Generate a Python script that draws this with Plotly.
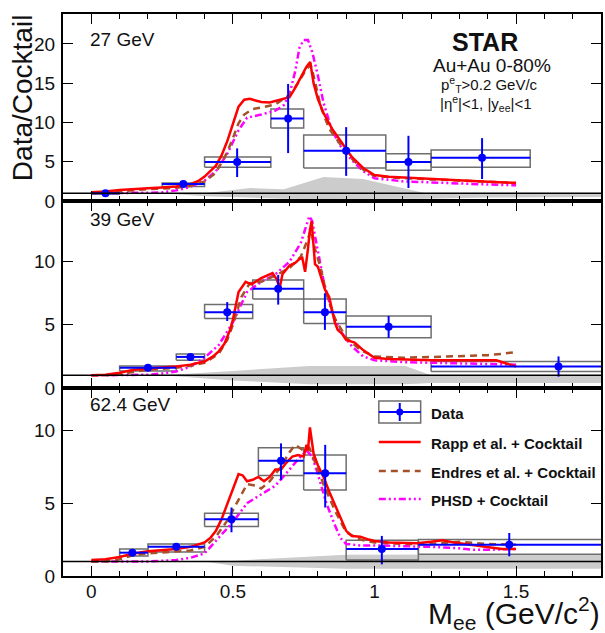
import plotly.graph_objects as go

# ------------------------------------------------------------------ data
panel_labels = ["27 GeV", "39 GeV", "62.4 GeV"]
y_ranges = [[0, 23.8], [0, 14.8], [0, 12.9]]
x_ticks = [0, 0.5, 1, 1.5]
UNITY = 1.0

# ---- 27 GeV data
d27_m = [0.05, 0.325, 0.515, 0.695, 0.90, 1.12, 1.38]
d27_lo = [0.0, 0.25, 0.40, 0.634, 0.75, 1.04, 1.20]
d27_hi = [0.10, 0.40, 0.634, 0.75, 1.04, 1.20, 1.55]
d27_y = [0.98, 2.15, 4.95, 10.5, 6.4, 4.95, 5.5]
d27_stat_lo = [0.8, 2.0, 3.05, 6.1, 3.2, 1.65, 2.8]
d27_stat_hi = [1.15, 2.3, 6.7, 14.9, 9.4, 8.3, 8.0]
d27_sys_lo = [0.9, 1.85, 4.3, 9.3, 4.2, 3.9, 4.3]
d27_sys_hi = [1.05, 2.3, 5.6, 11.7, 8.4, 6.0, 6.5]

# ---- 39 GeV data
d39_m = [0.20, 0.35, 0.48, 0.66, 0.825, 1.05, 1.65]
d39_lo = [0.10, 0.30, 0.40, 0.57, 0.75, 0.90, 1.20]
d39_hi = [0.30, 0.40, 0.57, 0.75, 0.90, 1.20, 2.10]
d39_y = [1.6, 2.46, 6.0, 7.85, 6.0, 4.85, 1.7]
d39_stat_lo = [1.5, 2.3, 5.3, 6.6, 4.6, 3.97, 0.9]
d39_stat_hi = [1.7, 2.6, 6.8, 8.95, 7.5, 5.7, 2.5]
d39_sys_lo = [1.35, 2.2, 5.5, 7.05, 5.1, 3.97, 1.3]
d39_sys_hi = [1.75, 2.7, 6.6, 8.55, 7.05, 5.7, 2.1]

# ---- 62.4 GeV data
d62_m = [0.145, 0.30, 0.495, 0.67, 0.826, 1.026, 1.476]
d62_lo = [0.10, 0.20, 0.40, 0.59, 0.75, 0.90, 1.155]
d62_hi = [0.20, 0.40, 0.59, 0.75, 0.90, 1.155, 2.10]
d62_y = [1.6, 2.0, 3.9, 7.9, 7.05, 1.85, 2.15]
d62_stat_lo = [1.45, 1.85, 3.0, 6.6, 4.7, 0.8, 1.35]
d62_stat_hi = [1.75, 2.15, 4.7, 9.1, 9.0, 2.75, 2.95]
d62_sys_lo = [1.37, 1.65, 3.4, 6.9, 5.9, 1.1, 1.5]
d62_sys_hi = [1.85, 2.2, 4.3, 8.8, 8.3, 2.45, 2.5]

# ---- cocktail systematic bands
band27_m = [0.0, 0.25, 0.40, 0.56, 0.68, 0.82, 0.96, 1.18, 1.4, 1.8]
band27_up = [1.0, 1.0, 1.0, 1.65, 1.5, 3.05, 2.8, 1.0, 1.0, 1.0]
band27_dn = [1.0, 1.0, 0.6, 0.4, 0.3, 0.25, 0.25, 0.3, 0.45, 0.5]
band39_m = [0.0, 0.25, 0.5, 0.77, 1.11, 1.2, 1.8]
band39_up = [1.0, 1.0, 1.35, 1.75, 1.75, 1.0, 1.0]
band39_dn = [1.0, 1.0, 0.6, 0.3, 0.3, 0.4, 0.4]
band62_m = [0.0, 0.40, 0.5, 0.9, 1.8]
band62_up = [1.0, 1.0, 1.05, 1.45, 1.5]
band62_dn = [1.0, 1.0, 0.7, 0.5, 0.5]

# ---- model curves: Rapp
rapp27_m = [0.00, 0.05, 0.10, 0.15, 0.20, 0.25, 0.30, 0.35, 0.38, 0.40, 0.42, 0.44, 0.46, 0.48, 0.50,
            0.52, 0.54, 0.56, 0.58, 0.60, 0.63, 0.66, 0.70, 0.72, 0.74, 0.76, 0.773, 0.785, 0.80, 0.82,
            0.85, 0.884, 0.92, 0.96, 1.00, 1.05, 1.10, 1.20, 1.30, 1.40, 1.50]
rapp27_y = [1.10, 1.20, 1.40, 1.55, 1.62, 1.72, 1.85, 2.15, 2.60, 3.10, 3.80, 4.50, 5.80, 7.60, 9.80,
            12.0, 12.9, 13.0, 12.8, 12.6, 12.55, 12.8, 13.2, 14.4, 15.8, 17.1, 17.7, 15.0, 13.0, 11.2,
            9.2, 7.4, 5.6, 4.2, 3.3, 3.1, 3.0, 2.8, 2.62, 2.45, 2.3]
rapp39_m = [0.00, 0.05, 0.10, 0.15, 0.20, 0.25, 0.30, 0.35, 0.40, 0.43, 0.45, 0.47, 0.49, 0.50, 0.51,
            0.52, 0.545, 0.565, 0.60, 0.64, 0.655, 0.665, 0.675, 0.70, 0.72, 0.735, 0.745, 0.755, 0.765,
            0.772, 0.778, 0.785, 0.79, 0.80, 0.81, 0.825, 0.84, 0.85, 0.86, 0.87, 0.885, 0.90, 0.93,
            0.96, 1.00, 1.05, 1.10, 1.20, 1.30, 1.43, 1.50]
rapp39_y = [1.00, 1.05, 1.20, 1.45, 1.55, 1.60, 1.70, 1.85, 2.10, 2.50, 2.90, 3.50, 4.60, 5.40, 6.50,
            7.60, 8.40, 8.20, 8.70, 9.10, 8.60, 7.90, 9.00, 9.70, 9.90, 10.2, 10.3, 9.20, 11.0,
            12.5, 13.2, 11.0, 9.80, 9.60, 8.80, 7.80, 7.20, 6.30, 5.20, 4.60, 4.30, 3.80, 3.60,
            3.00, 2.40, 2.30, 2.25, 2.20, 2.20, 2.20, 1.70]
rapp62_m = [0.00, 0.05, 0.10, 0.15, 0.20, 0.25, 0.30, 0.35, 0.40, 0.42, 0.44, 0.46, 0.48, 0.50, 0.52,
            0.535, 0.55, 0.57, 0.59, 0.61, 0.63, 0.65, 0.67, 0.69, 0.71, 0.73, 0.75, 0.76, 0.765, 0.772,
            0.778, 0.785, 0.80, 0.82, 0.84, 0.86, 0.88, 0.90, 0.92, 0.95, 0.98, 1.00, 1.05, 1.10, 1.15,
            1.20, 1.24, 1.28, 1.35, 1.40, 1.45, 1.50]
rapp62_y = [1.10, 1.15, 1.30, 1.55, 1.70, 1.78, 1.85, 2.00, 2.30, 2.60, 3.10, 3.90, 4.90, 5.90, 7.00,
            6.90, 6.50, 6.60, 6.80, 6.50, 6.80, 7.30, 7.30, 7.80, 8.20, 8.30, 8.20, 9.00, 8.60, 10.2,
            9.50, 8.40, 7.60, 6.80, 5.80, 4.90, 3.90, 3.10, 2.75, 2.70, 2.50, 2.40, 2.30, 2.25, 2.25,
            2.35, 2.45, 2.30, 2.10, 2.00, 1.85, 1.85]

# ---- model curves: Endres
endres27_m = [0.00, 0.05, 0.10, 0.15, 0.20, 0.25, 0.30, 0.35, 0.40, 0.44, 0.48, 0.50, 0.52, 0.54, 0.57,
              0.60, 0.65, 0.70, 0.73, 0.76, 0.775, 0.79, 0.81, 0.84, 0.88, 0.92, 0.96, 1.00, 1.10, 1.20,
              1.30, 1.40, 1.50]
endres27_y = [1.00, 1.05, 1.25, 1.40, 1.50, 1.58, 1.68, 1.90, 2.50, 3.60, 6.20, 8.00, 9.90, 11.0, 11.7,
              11.9, 12.3, 13.5, 15.0, 16.8, 17.3, 15.2, 12.0, 9.20, 7.20, 5.40, 4.00, 3.20, 2.90, 2.75,
              2.60, 2.45, 2.30]
endres39_m = [0.00, 0.05, 0.10, 0.15, 0.20, 0.30, 0.35, 0.40, 0.45, 0.48, 0.50, 0.53, 0.56, 0.60, 0.65,
              0.70, 0.74, 0.765, 0.775, 0.79, 0.81, 0.83, 0.86, 0.90, 0.95, 1.00, 1.10, 1.20, 1.30, 1.40,
              1.45, 1.50]
endres39_y = [1.00, 1.00, 1.10, 1.30, 1.45, 1.60, 1.75, 2.00, 2.70, 3.80, 5.00, 7.20, 8.30, 8.40, 8.90,
              9.50, 10.4, 11.8, 12.5, 11.0, 9.50, 7.50, 5.50, 4.00, 3.00, 2.50, 2.40, 2.45, 2.50, 2.60,
              2.70, 2.85]
endres62_m = [0.00, 0.05, 0.10, 0.15, 0.20, 0.30, 0.35, 0.40, 0.44, 0.48, 0.52, 0.55, 0.58, 0.60, 0.63,
              0.67, 0.70, 0.72, 0.75, 0.77, 0.79, 0.82, 0.86, 0.90, 0.95, 1.00, 1.10, 1.20, 1.30, 1.40,
              1.50]
endres62_y = [1.00, 1.00, 1.15, 1.45, 1.55, 1.65, 1.75, 2.00, 2.70, 3.80, 5.20, 6.30, 6.20, 6.00, 6.50,
              7.50, 8.50, 9.00, 8.60, 8.80, 7.80, 6.30, 4.50, 3.00, 2.50, 2.30, 2.20, 2.20, 2.35, 2.20,
              2.15]

# ---- model curves: PHSD
phsd27_m = [0.00, 0.10, 0.20, 0.25, 0.30, 0.35, 0.40, 0.44, 0.48, 0.52, 0.55, 0.60, 0.65, 0.68, 0.70,
            0.72, 0.735, 0.75, 0.765, 0.78, 0.80, 0.82, 0.85, 0.88, 0.92, 0.96, 1.00, 1.10, 1.20, 1.30,
            1.40, 1.50]
phsd27_y = [1.00, 1.00, 1.05, 1.10, 1.35, 1.80, 2.60, 3.80, 6.00, 9.00, 10.6, 11.0, 11.5, 12.2, 13.6,
            16.5, 19.5, 20.5, 20.5, 19.0, 16.0, 12.5, 9.00, 7.00, 5.20, 3.80, 2.90, 2.50, 2.35, 2.20,
            2.10, 2.00]
phsd39_m = [0.00, 0.10, 0.20, 0.25, 0.30, 0.35, 0.40, 0.45, 0.50, 0.55, 0.60, 0.65, 0.70, 0.74, 0.76,
            0.77, 0.78, 0.80, 0.82, 0.85, 0.88, 0.92, 0.96, 1.00, 1.10, 1.20, 1.30, 1.40, 1.50]
phsd39_y = [1.00, 1.00, 1.05, 1.15, 1.30, 1.70, 2.40, 3.40, 5.20, 7.60, 8.40, 9.00, 10.0, 11.5, 13.0,
            13.6, 13.2, 11.0, 8.50, 6.00, 4.50, 3.30, 2.50, 2.20, 2.05, 2.00, 1.95, 1.95, 1.85]
phsd62_m = [0.00, 0.10, 0.20, 0.30, 0.35, 0.40, 0.45, 0.50, 0.55, 0.60, 0.65, 0.70, 0.73, 0.76, 0.78,
            0.80, 0.83, 0.86, 0.88, 0.90, 0.95, 1.00, 1.10, 1.20, 1.30, 1.35, 1.40, 1.45, 1.50]
phsd62_y = [1.00, 1.00, 1.00, 1.10, 1.25, 1.55, 2.60, 3.70, 5.00, 5.60, 6.20, 7.30, 8.00, 8.60, 8.20,
            7.00, 5.00, 3.50, 2.60, 2.20, 2.10, 2.10, 2.05, 2.00, 1.90, 1.80, 1.80, 1.85, 1.85]

legend_names = ["Data", "Rapp et al. + Cocktail", "Endres et al. + Cocktail", "PHSD + Cocktail"]

# ------------------------------------------------------------------ styles
FONT = "Liberation Sans, Arial, Helvetica, sans-serif"
BLUE = "#0000ff"
RED = "#ff0000"
BROWN = "#a5522a"
MAGENTA = "#ff00ff"
BOXGRAY = "#6e6e6e"
BANDGRAY = "#cccccc"
DASH_ENDRES = "7px,5px"
DASH_PHSD = "7px,3px,2px,3px,2px,3px"

W, H = 605, 633
ML, MR, MT, MB = 63, 2, 14, 57
PW, PH = W - ML - MR, H - MT - MB


def px(xp):
    return (xp - ML) / PW


def py(yp):
    return (H - MB - yp) / PH


# panel borders in pixel rows
borders = [14, 201, 388, 576]
domains = [[py(borders[i + 1]), py(borders[i])] for i in range(3)]

panels = [
    dict(m=d27_m, lo=d27_lo, hi=d27_hi, y=d27_y, slo=d27_stat_lo, shi=d27_stat_hi,
         blo=d27_sys_lo, bhi=d27_sys_hi, bm=band27_m, bu=band27_up, bd=band27_dn,
         rm=rapp27_m, ry=rapp27_y, em=endres27_m, ey=endres27_y, pm=phsd27_m, pyv=phsd27_y),
    dict(m=d39_m, lo=d39_lo, hi=d39_hi, y=d39_y, slo=d39_stat_lo, shi=d39_stat_hi,
         blo=d39_sys_lo, bhi=d39_sys_hi, bm=band39_m, bu=band39_up, bd=band39_dn,
         rm=rapp39_m, ry=rapp39_y, em=endres39_m, ey=endres39_y, pm=phsd39_m, pyv=phsd39_y),
    dict(m=d62_m, lo=d62_lo, hi=d62_hi, y=d62_y, slo=d62_stat_lo, shi=d62_stat_hi,
         blo=d62_sys_lo, bhi=d62_sys_hi, bm=band62_m, bu=band62_up, bd=band62_dn,
         rm=rapp62_m, ry=rapp62_y, em=endres62_m, ey=endres62_y, pm=phsd62_m, pyv=phsd62_y),
]

fig = go.Figure()
shapes = []
annotations = []

for i, p in enumerate(panels):
    xa = "x" if i == 0 else f"x{i + 1}"
    ya = "y" if i == 0 else f"y{i + 1}"
    common = dict(xaxis=xa, yaxis=ya, showlegend=False, hoverinfo="skip")

    # systematic band of cocktail
    fig.add_trace(go.Scatter(x=p["bm"] + p["bm"][::-1], y=p["bu"] + p["bd"][::-1],
                             fill="toself", fillcolor=BANDGRAY, mode="lines",
                             line=dict(width=0, color=BANDGRAY), **common))
    # sys boxes
    bx, by = [], []
    for a, b, c, d in zip(p["lo"], p["hi"], p["blo"], p["bhi"]):
        bx += [a, b, b, a, a, None]
        by += [c, c, d, d, c, None]
    fig.add_trace(go.Scatter(x=bx, y=by, mode="lines",
                             line=dict(color=BOXGRAY, width=1.5), **common))
    # model curves
    fig.add_trace(go.Scatter(x=p["pm"], y=p["pyv"], mode="lines",
                             line=dict(color=MAGENTA, width=2.5, dash=DASH_PHSD), **common))
    fig.add_trace(go.Scatter(x=p["em"], y=p["ey"], mode="lines",
                             line=dict(color=BROWN, width=2.5, dash=DASH_ENDRES), **common))
    fig.add_trace(go.Scatter(x=p["rm"], y=p["ry"], mode="lines",
                             line=dict(color=RED, width=2.5), **common))
    # data points
    fig.add_trace(go.Scatter(
        x=p["m"], y=p["y"], mode="markers",
        marker=dict(color=BLUE, size=8),
        error_x=dict(type="data", symmetric=False,
                     array=[h - m for h, m in zip(p["hi"], p["m"])],
                     arrayminus=[m - l for m, l in zip(p["m"], p["lo"])],
                     color=BLUE, thickness=2, width=0),
        error_y=dict(type="data", symmetric=False,
                     array=[h - v for h, v in zip(p["shi"], p["y"])],
                     arrayminus=[v - l for v, l in zip(p["y"], p["slo"])],
                     color=BLUE, thickness=2, width=0),
        **common))

    # unity line
    shapes.append(dict(type="line", xref=f"{xa} domain", yref=ya, x0=0, x1=1,
                       y0=UNITY, y1=UNITY, line=dict(color="black", width=1.5)))

    axis_x = dict(domain=[0, 1], range=[-0.1, 1.8], anchor=ya, showline=True,
                  mirror="ticks", linewidth=2, linecolor="black", ticks="inside",
                  ticklen=10, tickwidth=1.2, tickcolor="black",
                  tickvals=x_ticks, ticktext=[f"{v:g}" for v in x_ticks],
                  minor=dict(ticks="inside", dtick=0.1, tick0=0, ticklen=5,
                             tickwidth=1.2, tickcolor="black", showgrid=False),
                  showgrid=False, zeroline=False, showticklabels=(i == 2),
                  tickfont=dict(family=FONT, size=19, color="#111"),
                  ticklabelstandoff=-3)
    if i < 2:
        axis_x["matches"] = "x3"
    axis_y = dict(domain=domains[i], range=y_ranges[i], anchor=xa, showline=True,
                  mirror="ticks", linewidth=2, linecolor="black", ticks="inside",
                  ticklen=10, tickwidth=1.2, tickcolor="black", dtick=5, tick0=0,
                  showgrid=False, zeroline=False,
                  tickfont=dict(family=FONT, size=19, color="#111"),
                  ticklabelstandoff=2)
    fig.layout[("xaxis" if i == 0 else f"xaxis{i + 1}")] = axis_x
    fig.layout[("yaxis" if i == 0 else f"yaxis{i + 1}")] = axis_y

    # panel labels
    ycent = [40, 219, 404][i]
    annotations.append(dict(text=panel_labels[i], xref="paper", yref="paper",
                            x=px(88), y=py(ycent), xanchor="left", yanchor="middle",
                            showarrow=False, font=dict(family=FONT, size=19, color="#111")))

# STAR block
annotations += [
    dict(text="<b>STAR</b>", x=px(487), y=py(42), font=dict(family=FONT, size=25, color="#111")),
    dict(text="Au+Au 0-80%", x=px(494), y=py(65), font=dict(family=FONT, size=19, color="#111")),
    dict(text="p<sup>e</sup><sub>T</sub>&gt;0.2 GeV/c", x=px(491), y=py(84),
         font=dict(family=FONT, size=15, color="#111")),
    dict(text="|η<sup>e</sup>|&lt;1, |y<sub>ee</sub>|&lt;1", x=px(488), y=py(103),
         font=dict(family=FONT, size=15, color="#111")),
]
for a in annotations[-4:]:
    a.update(xref="paper", yref="paper", xanchor="center", yanchor="middle", showarrow=False)

# axis titles
annotations.append(dict(text="Data/Cocktail", xref="paper", yref="paper", x=px(23), y=py(98),
                        textangle=-90, xanchor="center", yanchor="middle", showarrow=False,
                        font=dict(family=FONT, size=28, color="#111")))
annotations.append(dict(text="M<sub>ee</sub> (GeV/c<sup>2</sup>)", xref="paper", yref="paper",
                        x=px(604), y=py(613), xanchor="right", yanchor="middle", showarrow=False,
                        font=dict(family=FONT, size=30, color="#111")))

# legend (manual, inside bottom panel)
lx0, lx1 = px(380), px(422)
shapes.append(dict(type="rect", xref="paper", yref="paper", x0=lx0, x1=lx1, y0=py(423), y1=py(401),
                   line=dict(color=BOXGRAY, width=1.5)))
shapes.append(dict(type="line", xref="paper", yref="paper", x0=lx0, x1=lx1, y0=py(412), y1=py(412),
                   line=dict(color=BLUE, width=2)))
shapes.append(dict(type="line", xref="paper", yref="paper", x0=px(401), x1=px(401), y0=py(403),
                   y1=py(421), line=dict(color=BLUE, width=2)))
shapes.append(dict(type="circle", xref="paper", yref="paper", x0=px(397.5), x1=px(404.5),
                   y0=py(415.5), y1=py(408.5), fillcolor=BLUE, line=dict(color=BLUE, width=0)))
leg_rows = [442, 471, 499]
leg_styles = [dict(color=RED, width=2.5), dict(color=BROWN, width=2.5, dash=DASH_ENDRES),
              dict(color=MAGENTA, width=2.5, dash=DASH_PHSD)]
for yr, st in zip(leg_rows, leg_styles):
    shapes.append(dict(type="line", xref="paper", yref="paper", x0=lx0, x1=lx1, y0=py(yr), y1=py(yr),
                       line=st))
for name, yr in zip(legend_names, [413, 443, 472, 500]):
    annotations.append(dict(text=f"<b>{name}</b>", xref="paper", yref="paper", x=px(430), y=py(yr),
                            xanchor="left", yanchor="middle", showarrow=False,
                            font=dict(family=FONT, size=15, color="#111")))

fig.update_layout(width=W, height=H, margin=dict(l=ML, r=MR, t=MT, b=MB),
                  paper_bgcolor="white", plot_bgcolor="white",
                  shapes=shapes, annotations=annotations, showlegend=False,
                  font=dict(family=FONT))

fig.write_html("out.html")
